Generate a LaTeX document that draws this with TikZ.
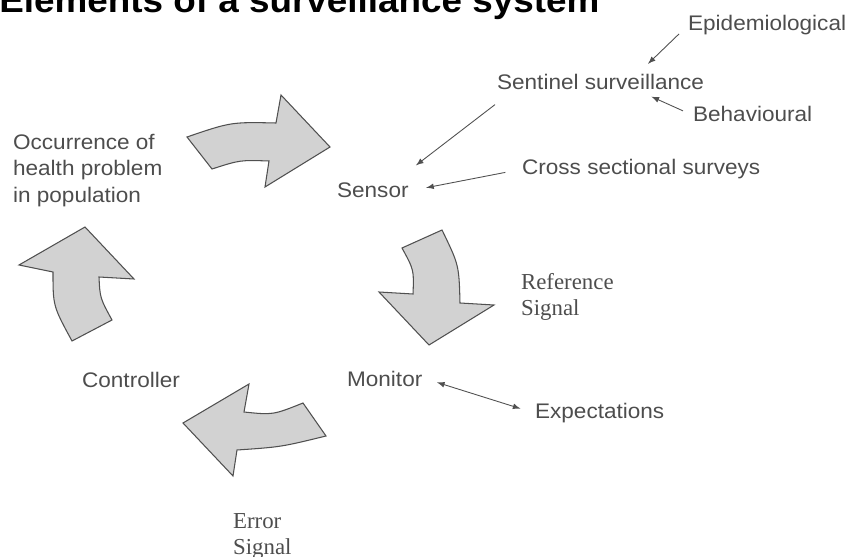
\documentclass[tikz,border=0pt]{standalone}
\usepackage{fontspec}
\setmainfont{Liberation Sans}[FakeStretch=1.07]
\newfontfamily\serifont{Liberation Serif}
\definecolor{txtgray}{HTML}{4D4D4D}
\definecolor{arrowfill}{HTML}{D2D2D2}
\definecolor{arrowline}{HTML}{505050}
\tikzstyle{elem}=[anchor=base west,inner sep=1pt,text=txtgray,font=\fontsize{12}{15}\selectfont]
\tikzstyle{sig}=[anchor=north west,inner sep=1pt,align=left,text=txtgray,font=\serifont\fontsize{13}{15}\selectfont]
\tikzstyle{bigarrow}=[fill=arrowfill,draw=arrowline,line width=0.6pt,line join=miter]
\tikzstyle{conn}=[-latex,draw=arrowline,line width=0.5pt]

\begin{document}
\begin{tikzpicture}[x=0.02cm,y=-0.02cm]
\useasboundingbox (0,0) rectangle (852,557);
\node[anchor=base west,inner sep=0pt,font=\bfseries\fontsize{19.6}{22}\selectfont] at (-1,13) (title) {Elements of a surveillance system};
% labels
\node[elem] at (686,31) (epi) {Epidemiological};
\node[elem] at (495,90) (sentinel) {Sentinel surveillance};
\node[elem] at (691,122) (behav) {Behavioural};
\node[elem] at (520,175) (cross) {Cross sectional surveys};
\node[elem] at (335,198) (sensor) {Sensor};
\node[elem] at (345,386) (monitor) {Monitor};
\node[elem] at (533,418) (expect) {Expectations};
\node[elem] at (80,387) (controller) {Controller};
\node[elem,anchor=north west,align=left] at (11,132) (occur) {Occurrence of\\health problem\\in population};
\node[sig] at (519,271) (refsig) {Reference\\Signal};
\node[sig] at (231,511) (errsig) {Error\\Signal};
% thin arrows
\draw[conn] ([xshift=-4pt,yshift=2pt]epi.south west) -- ([xshift=27pt,yshift=5pt]sentinel.north);
\draw[conn,shorten <=5pt] (behav.west) -- ([xshift=29pt,yshift=-2.5pt]sentinel.south);
\draw[conn] ([yshift=-7pt]sentinel.south west) -- ([xshift=3pt,yshift=9pt]sensor.north east);
\draw[conn,shorten <=8.5pt,shorten >=9pt] (cross.west) -- (sensor.east);
\draw[conn,latex-latex,shorten <=7.5pt,shorten >=7.5pt] (monitor.east) -- (expect.west);
% cycle arrows
\draw[bigarrow] (187,137) .. controls (231,122) .. (276,123) -- (281,95) -- (330,147)
  -- (265,187) -- (269,161) .. controls (240,160) .. (212,169) -- cycle;
\draw[bigarrow] (402,248) -- (442,230) .. controls (459,265) .. (460,303) -- (494,305)
  -- (429,345) -- (379,292) -- (413,294) .. controls (414,270) .. cycle;
\draw[bigarrow] (303,403) -- (326,436) .. controls (281,447) .. (237,450) -- (233,476)
  -- (183,423) -- (249,384) -- (244,412) .. controls (273,415) .. cycle;
\draw[bigarrow] (72,341) -- (112,320) .. controls (100,298) .. (99,277) -- (134,279)
  -- (85,227) -- (19,265) -- (53,272) .. controls (53,306) .. cycle;
\end{tikzpicture}
\end{document}
